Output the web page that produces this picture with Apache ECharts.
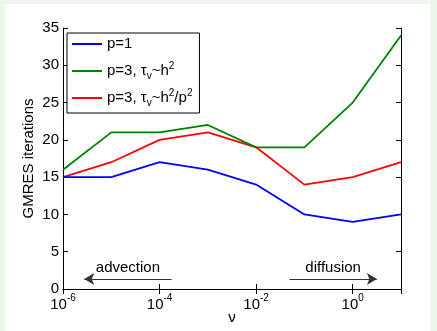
<!DOCTYPE html>
<html>
<head>
<meta charset="utf-8">
<script src="https://cdn.jsdelivr.net/npm/echarts@6/dist/echarts.min.js"></script>
<style>
  html, body { margin: 0; padding: 0; background: #ecf6ea; }
  #panel { position: absolute; left: 5px; top: 4px; width: 425px; height: 327px; background: #fff; }
  #chart { position: absolute; left: 0; top: 0; width: 437px; height: 331px; }
</style>
</head>
<body>
<div id="panel"></div>
<div id="chart"></div>
<script>
// viscosity values (log x axis)
const nu = [1e-6, 1e-5, 1e-4, 1e-3, 1e-2, 1e-1, 1e0, 1e1];
const iterP1 = [15, 15, 17, 16, 14, 10, 9, 10];
const iterP3h2 = [16, 21, 21, 22, 19, 19, 25, 34];
const iterP3h2p2 = [15, 17, 20, 21, 19, 14, 15, 17];
const seriesNames = ["p1", "p3a", "p3b"];
const seriesColors = ["#0000ff", "#008000", "#ff0000"];
// annotation arrows: [from, to] in nu, at height arrowY
const advectionArrow = [Math.pow(10, -5.56), Math.pow(10, -3.75)];
const diffusionArrow = [Math.pow(10, -1.31), Math.pow(10, 0.5)];
const arrowY = 1.35;

const font = "Liberation Sans, Arial, sans-serif";

const pairs = (ys) => nu.map((x, i) => [x, ys[i]]);

const legendText = {
  p1: "{a|p=1}",
  p3a: "{a|p=3, τ}{sub|v}{a|~h}{sup|2}",
  p3b: "{a|p=3, τ}{sub|v}{a|~h}{sup|2}{a|/p}{sup|2}",
};

const chart = echarts.init(document.getElementById("chart"));

const options = {
  animation: false,
  textStyle: { fontFamily: font },
  grid: { left: 63, right: 36, top: 28, bottom: 42, containLabel: false, outerBoundsMode: "none" },
  legend: {
    orient: "vertical",
    left: 67,
    top: 33,
    itemWidth: 30,
    itemHeight: 2,
    itemGap: 7,
    padding: [1, 7, 5, 5],
    backgroundColor: "#fff",
    borderColor: "#000",
    borderWidth: 1,
    borderRadius: 0,
    data: seriesNames.map((n) => ({ name: n, icon: "rect" })),
    formatter: (name) => legendText[name],
    textStyle: {
      fontFamily: font,
      color: "#000",
      lineHeight: 20,
      rich: {
        a: { fontSize: 15, color: "#000", fontFamily: font, lineHeight: 20, verticalAlign: "middle" },
        sub: { fontSize: 10, color: "#000", fontFamily: font, lineHeight: 20, verticalAlign: "bottom" },
        sup: { fontSize: 10, color: "#000", fontFamily: font, lineHeight: 20, verticalAlign: "top" },
      },
    },
  },
  xAxis: [
    {
      type: "log",
      logBase: 10,
      min: 1e-6,
      max: 10,
      interval: 2,
      name: "ν",
      nameLocation: "middle",
      nameGap: 21,
      nameMoveOverlap: false,
      nameTextStyle: { fontSize: 15, color: "#000", fontFamily: font },
      axisLine: { lineStyle: { color: "#000", width: 1 } },
      axisTick: { inside: true, length: 5, lineStyle: { color: "#000" } },
      splitLine: { show: false },
      axisLabel: {
        color: "#000",
        margin: 4,
        formatter: (v) => {
          const n = Math.round(Math.log10(v));
          if (n > 0) return "";
          return "{b|10}{e|" + n + "}";
        },
        rich: {
          b: { fontSize: 15, color: "#000", fontFamily: font, lineHeight: 19, verticalAlign: "bottom" },
          e: { fontSize: 10, color: "#000", fontFamily: font, lineHeight: 19, verticalAlign: "top" },
        },
      },
    },
    {
      type: "log",
      logBase: 10,
      min: 1e-6,
      max: 10,
      interval: 2,
      position: "top",
      axisLine: { lineStyle: { color: "#000", width: 1 } },
      axisTick: { inside: true, length: 5, lineStyle: { color: "#000" } },
      axisLabel: { show: false },
      splitLine: { show: false },
    },
  ],
  yAxis: [
    {
      type: "value",
      min: 0,
      max: 35,
      interval: 5,
      name: "GMRES iterations",
      nameLocation: "middle",
      nameGap: 27,
      nameMoveOverlap: false,
      nameTextStyle: { fontSize: 15, color: "#000", fontFamily: font },
      axisLine: { show: true, lineStyle: { color: "#000", width: 1 } },
      axisTick: { show: true, inside: true, length: 5, lineStyle: { color: "#000" } },
      splitLine: { show: false },
      axisLabel: { color: "#000", fontSize: 15, margin: 4, fontFamily: font },
    },
    {
      type: "value",
      min: 0,
      max: 35,
      interval: 5,
      position: "right",
      axisLine: { show: true, lineStyle: { color: "#000", width: 1 } },
      axisTick: { show: true, inside: true, length: 5, lineStyle: { color: "#000" } },
      axisLabel: { show: false },
      splitLine: { show: false },
    },
  ],
  series: [
    ...[iterP1, iterP3h2, iterP3h2p2].map((ys, i) => ({
      name: seriesNames[i],
      type: "line",
      data: pairs(ys),
      symbol: "none",
      color: seriesColors[i],
      lineStyle: { width: 1.8, color: seriesColors[i] },
      z: 3 - i,
    })),
    {
      name: "annotations",
      type: "line",
      data: [],
      markLine: {
        silent: true,
        symbolSize: [9, 10],
        lineStyle: { color: "#333", width: 1, type: "solid" },
        label: {
          show: true,
          position: "insideMiddleTop",
          distance: 4,
          color: "#000",
          fontSize: 15,
          fontFamily: font,
        },
        data: [
          [
            { coord: [advectionArrow[0], arrowY], symbol: "arrow", name: "advection", label: { formatter: "advection" } },
            { coord: [advectionArrow[1], arrowY], symbol: "none" },
          ],
          [
            { coord: [diffusionArrow[0], arrowY], symbol: "none", name: "diffusion", label: { formatter: "diffusion" } },
            { coord: [diffusionArrow[1], arrowY], symbol: "arrow" },
          ],
        ],
      },
    },
  ],
};

chart.setOption(options);
</script>
</body>
</html>
